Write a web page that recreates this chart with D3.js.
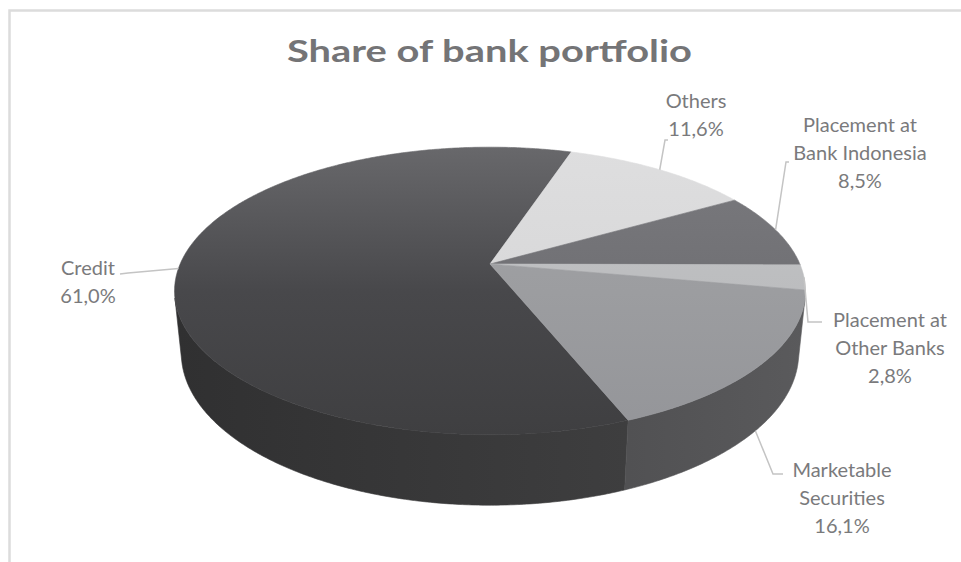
<!DOCTYPE html>
<html>
<head>
<meta charset="utf-8">
<script src="https://cdn.jsdelivr.net/npm/d3@7"></script>
<style>
  html, body { margin: 0; padding: 0; background: #fff; }
  svg { display: block; }
</style>
</head>
<body>
<svg id="chart" width="961" height="562"></svg>
<script>
// Portfolio shares, listed clockwise starting with Credit
const categories = ["Credit", "Others", "Placement at Bank Indonesia", "Placement at Other Banks", "Marketable Securities"];
const shares = [61.0, 11.6, 8.5, 2.8, 16.1];
const labelNames = [["Credit"], ["Others"], ["Placement at", "Bank Indonesia"], ["Placement at", "Other Banks"], ["Marketable", "Securities"]];
const topColors = [["#68686b", "#48484b", "#3f3f41"], ["#dededf", "#d8d8d9", "#d2d2d3"], ["#7a7a7e", "#707074", "#6a6a6e"], ["#c4c5c7", "#bcbdbf", "#b6b7b9"], ["#a4a5a8", "#9c9da0", "#949599"]];
const sideColors = [["#3e3e3f", "#303031"], ["#bcbcbd", "#b0b0b1"], ["#5c5c60", "#545458"], ["#a6a7a9", "#9c9d9f"], ["#5a5a5c", "#515153"]];
// Label boxes: centre x, first baseline, and the elbow of the leader line
const labelPos = [
  { x: 88, y: 275, elbow: [[120, 274], [128, 273]] },
  { x: 696, y: 108, elbow: [[668, 140], [665, 140]] },
  { x: 860, y: 132, elbow: [[789, 162], [786, 162]] },
  { x: 890, y: 327, elbow: [[822, 322], [808, 322]] },
  { x: 842, y: 477, elbow: [[783, 474], [773, 474]] }
];

const svg = d3.select("#chart");
const W = 961, H = 562;
const deg = Math.PI / 180;
const TAU = 2 * Math.PI;

// Perspective camera for the 3-D disc (unit radius)
const cx = 490, cy = 264;
const tilt = 26.6 * deg;
const camDist = 4.77;
const focal = 1478;
const thickness = 0.225;

function project(phi, r, y) {
  // phi: clockwise from the back of the disc; y: height (0 = top face)
  const x = r * Math.sin(phi);
  const z = -r * Math.cos(phi);
  const Y = z * Math.sin(tilt) - y * Math.cos(tilt);
  const Wd = camDist - z * Math.cos(tilt) - y * Math.sin(tilt);
  return [cx + focal * x / Wd, cy + focal * Y / Wd];
}

// Range of angles where the outer wall faces the viewer
const halfVis = Math.acos(1 / (camDist * Math.cos(tilt)));
const visStart = Math.PI - halfVis, visEnd = Math.PI + halfVis;

// Front-facing part of an angular span, allowing spans past one full turn
function visiblePart(a0, a1) {
  for (const shift of [0, -TAU, TAU]) {
    const s = Math.max(a0 + shift, visStart), e = Math.min(a1 + shift, visEnd);
    if (e > s) return [s, e];
  }
  return null;
}

const startDeg = 158.4;
const pie = d3.pie().sort(null).value(d => d)
  .startAngle(startDeg * deg).endAngle(startDeg * deg + TAU);
const arcs = pie(shares);

const fmt = d3.formatLocale({ decimal: ",", thousands: ".", grouping: [3], currency: ["", ""] }).format(".1f");
const line = d3.line();

function rimPoints(a0, a1, y) {
  const n = Math.max(2, Math.ceil((a1 - a0) / (0.5 * deg)));
  return d3.range(n + 1).map(i => project(a0 + (a1 - a0) * i / n, 1, y));
}

// Frame
svg.append("rect").attr("width", W).attr("height", H).attr("fill", "#fff");
svg.append("path")
  .attr("d", `M9.5,${H}V10.5H${W}`)
  .attr("fill", "none").attr("stroke", "#dcdcdc").attr("stroke-width", 2.5);

// Title
svg.append("text")
  .attr("x", 489.5).attr("y", 62)
  .attr("text-anchor", "middle")
  .attr("font-family", "Lato, 'Open Sans', sans-serif")
  .attr("font-weight", "bold")
  .attr("font-size", 30)
  .attr("fill", "#747476")
  .attr("textLength", 405).attr("lengthAdjust", "spacingAndGlyphs")
  .text("Share of bank portfolio");

const defs = svg.append("defs");
arcs.forEach((a, i) => {
  const g = defs.append("linearGradient").attr("id", "top" + i)
    .attr("gradientUnits", "userSpaceOnUse")
    .attr("x1", 0).attr("y1", 147).attr("x2", 0).attr("y2", 435);
  g.append("stop").attr("offset", 0).attr("stop-color", topColors[i][0]);
  g.append("stop").attr("offset", 0.5).attr("stop-color", topColors[i][1]);
  g.append("stop").attr("offset", 1).attr("stop-color", topColors[i][2]);
  const vis = visiblePart(a.startAngle, a.endAngle);
  if (!vis) return;
  const p0 = project(vis[0], 1, 0), p1 = project(vis[1], 1, 0);
  const s = defs.append("linearGradient").attr("id", "side" + i)
    .attr("gradientUnits", "userSpaceOnUse")
    .attr("x1", p0[0]).attr("y1", 0).attr("x2", p1[0]).attr("y2", 0);
  s.append("stop").attr("offset", 0).attr("stop-color", sideColors[i][0]);
  s.append("stop").attr("offset", 1).attr("stop-color", sideColors[i][1]);
});

const disc = svg.append("g");

// Outer walls (front-facing part of each slice)
arcs.forEach((a, i) => {
  const vis = visiblePart(a.startAngle, a.endAngle);
  if (!vis) return;
  const topEdge = rimPoints(vis[0], vis[1], 0);
  const bottomEdge = rimPoints(vis[0], vis[1], -thickness).reverse();
  disc.append("path")
    .attr("d", line(topEdge.concat(bottomEdge)) + "Z")
    .attr("fill", `url(#side${i})`)
    .attr("stroke", `url(#side${i})`).attr("stroke-width", 0.6);
});

// Top faces
arcs.forEach((a, i) => {
  const pts = [project(0, 0, 0)].concat(rimPoints(a.startAngle, a.endAngle, 0));
  disc.append("path")
    .attr("d", line(pts) + "Z")
    .attr("fill", `url(#top${i})`)
    .attr("stroke", `url(#top${i})`).attr("stroke-width", 0.6);
});

// Leader lines and data labels
const labels = svg.append("g")
  .attr("font-family", "Lato, 'Open Sans', sans-serif")
  .attr("font-size", 20)
  .attr("fill", "#7a7a7c");

arcs.forEach((a, i) => {
  const mid = ((a.startAngle + a.endAngle) / 2) % TAU;
  const facing = mid > visStart && mid < visEnd;
  const anchor = project(mid, 1, facing ? -thickness : 0);
  const lp = labelPos[i];
  labels.append("path")
    .attr("d", line(lp.elbow.concat([anchor])))
    .attr("fill", "none").attr("stroke", "#c4c4c4").attr("stroke-width", 1.5);
  const lines = labelNames[i].concat([fmt(a.data) + "%"]);
  const t = labels.append("text").attr("text-anchor", "middle");
  lines.forEach((s, k) => {
    t.append("tspan").attr("x", lp.x).attr("y", lp.y + k * 28).text(s);
  });
});
</script>
</body>
</html>
